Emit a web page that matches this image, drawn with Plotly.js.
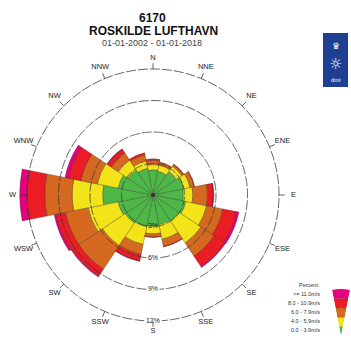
<!DOCTYPE html>
<html><head><meta charset="utf-8">
<script src="https://cdn.plot.ly/plotly-3.0.1.min.js"></script>
<style>html,body{margin:0;padding:0;background:#fff}#chart{width:351px;height:340px}</style>
</head><body><div id="chart"></div>
<script>
// ---- data (percent of time, per direction and wind-speed class) ----
const directions = ['N','NNE','NE','ENE','E','ESE','SE','SSE','S','SSW','SW','WSW','W','WNW','NW','NNW'];
const speedClasses = ['0.0 - 3.9m/s','4.0 - 5.9m/s','6.0 - 7.9m/s','8.0 - 10.9m/s','>= 11.0m/s'];
const pct_00_39  = [2.4,2.3,2.7,3.0,2.9,3.2,3.0,2.9,3.0,3.1,3.2,3.4,4.8,3.4,2.9,2.6];
const pct_40_59  = [0.5,0.6,0.6,0.6,0.9,2.0,2.5,1.4,0.7,1.7,2.6,2.9,2.9,2.0,1.1,0.7];
const pct_60_79  = [0.4,0.25,0.2,0.4,1.4,1.6,1.5,0.7,0.3,1.0,2.7,2.2,2.6,1.6,0.8,0.6];
const pct_80_109 = [0.15,0.05,0.05,0.05,0.55,1.3,1.2,0.05,0.05,0.6,0.8,0.9,1.7,1.2,0.45,0.2];
const pct_110    = [0,0,0,0,0.05,0.25,0.1,0,0,0.05,0.1,0.2,0.7,0.35,0.05,0];
const gridPercents = [3,6,9,12];
const gridLabels = ['3%','6%','9%','12%'];
const titleLines = ['6170','ROSKILDE LUFTHAVN','01-01-2002 - 01-01-2018'];

// ---- styling ----
const colors = ['#4db848','#f3e41a','#d4691f','#ec1c24','#e5007d'];
const FONT = 'Liberation Sans, Arial, sans-serif';
const W = 351, H = 340;
const cx = 153, cy = 195;          // rose centre (px)
const rMax = 13.6, pxPer = 10.5;   // radial range and px per percent
const R = rMax * pxPer;

const series = [pct_00_39, pct_40_59, pct_60_79, pct_80_109, pct_110];
const theta = directions.map((d, i) => i * 22.5);

const traces = [];
series.forEach((vals, k) => {
  traces.push({
    type: 'barpolar', subplot: 'polar', r: vals, theta: theta, width: theta.map(() => 22.5),
    marker: {color: colors[k], line: {color: 'rgba(40,30,20,0.6)', width: 0.5}},
    name: speedClasses[k], hoverinfo: 'skip', showlegend: false
  });
});

// grid circles drawn above the bars, with a gap where the label sits
gridPercents.forEach((g, i) => {
  const halfW = gridLabels[i].length * 2.2 + 1.5;
  const gap = Math.ceil(halfW / (g * pxPer) * 180 / Math.PI);
  const th = [], rr = [];
  for (let a = 180 + gap; a <= 540 - gap; a += 1) { th.push(a % 360); rr.push(g); }
  traces.push({type: 'scatterpolar', subplot: 'polar', mode: 'lines', r: rr, theta: th,
    line: {color: '#3a3a3a', width: 0.8, dash: '10px,2px'}, hoverinfo: 'skip', showlegend: false});
});
// direction ticks on the outer circle
const tickR = [], tickT = [];
theta.forEach(t => { tickR.push(12, 12.55, null); tickT.push(t, t, null); });
traces.push({type: 'scatterpolar', subplot: 'polar', mode: 'lines', r: tickR, theta: tickT,
  line: {color: '#3a3a3a', width: 0.8}, hoverinfo: 'skip', showlegend: false});
// direction labels
traces.push({type: 'scatterpolar', subplot: 'polar', mode: 'text',
  r: theta.map(t => 13.0 + 0.38 * Math.abs(Math.sin(t * Math.PI / 180))), theta: theta,
  text: directions, textfont: {family: FONT, size: 7.5, color: '#222'},
  cliponaxis: false, hoverinfo: 'skip', showlegend: false});
// percent labels
traces.push({type: 'scatterpolar', subplot: 'polar', mode: 'text',
  r: gridPercents, theta: gridPercents.map(() => 180), text: gridLabels,
  textfont: {family: FONT, size: 7, color: '#222'}, cliponaxis: false, hoverinfo: 'skip', showlegend: false});
// centre dot
traces.push({type: 'scatterpolar', subplot: 'polar', mode: 'markers', r: [0], theta: [0],
  marker: {color: '#333', size: 4}, hoverinfo: 'skip', showlegend: false});

// legend funnel (second polar subplot)
colors.forEach((c, k) => {
  traces.push({type: 'barpolar', subplot: 'polar2', r: [1], theta: [90], width: [22],
    marker: {color: c, line: {color: 'rgba(0,0,0,0.25)', width: 0.4}}, hoverinfo: 'skip', showlegend: false});
});

const annotations = [
  {text: '<b>' + titleLines[0] + '</b>', x: 152 / W, y: 1 - 18 / H, size: 12, color: '#111'},
  {text: '<b>' + titleLines[1] + '</b>', x: 153 / W, y: 1 - 31 / H, size: 12, color: '#111'},
  {text: titleLines[2], x: 152 / W, y: 1 - 43 / H, size: 9, color: '#444'}
].map(a => ({xref: 'paper', yref: 'paper', x: a.x, y: a.y, xanchor: 'center', yanchor: 'middle',
  text: a.text, showarrow: false, font: {family: FONT, size: a.size, color: a.color}}));

const legendRows = ['Percent:'].concat(speedClasses.slice().reverse());
const legendY = [285, 294, 303, 312, 321, 330];
legendRows.forEach((t, i) => annotations.push({xref: 'paper', yref: 'paper', x: 322 / W, y: 1 - legendY[i] / H,
  xanchor: 'right', yanchor: 'middle', text: t, showarrow: false, font: {family: FONT, size: 5.5, color: '#333'}}));

// DMI logo
annotations.push({xref: 'paper', yref: 'paper', x: 335.5 / W, y: 1 - 46 / H, xanchor: 'center', yanchor: 'middle',
  text: '♛', showarrow: false, font: {family: 'DejaVu Sans', size: 9, color: '#fff'}});
annotations.push({xref: 'paper', yref: 'paper', x: 335.5 / W, y: 1 - 64 / H, xanchor: 'center', yanchor: 'middle',
  text: '☼', showarrow: false, font: {family: 'DejaVu Sans', size: 15, color: '#fff'}});
annotations.push({xref: 'paper', yref: 'paper', x: 335.5 / W, y: 1 - 80 / H, xanchor: 'center', yanchor: 'middle',
  text: 'dmi', showarrow: false, font: {family: FONT, size: 6, color: '#fff'}});

const hidden = {visible: false, showgrid: false, showline: false, showticklabels: false, ticks: ''};
const layout = {
  width: W, height: H, margin: {l: 0, r: 0, t: 0, b: 0},
  paper_bgcolor: '#fff', plot_bgcolor: '#fff', showlegend: false,
  polar: {
    domain: {x: [(cx - R) / W, (cx + R) / W], y: [(H - cy - R) / H, (H - cy + R) / H]},
    bgcolor: 'rgba(0,0,0,0)', barmode: 'stack',
    radialaxis: Object.assign({range: [0, rMax]}, hidden),
    angularaxis: Object.assign({rotation: 90, direction: 'clockwise'}, hidden)
  },
  polar2: {
    domain: {x: [332 / W, 350 / W], y: [2 / H, 53 / H]},
    sector: [79, 101], bgcolor: 'rgba(0,0,0,0)', barmode: 'stack',
    radialaxis: Object.assign({range: [0, 5]}, hidden),
    angularaxis: Object.assign({}, hidden)
  },
  shapes: [{type: 'rect', xref: 'paper', yref: 'paper', x0: 323 / W, x1: 348 / W, y0: 1 - 87 / H, y1: 1 - 33 / H,
    fillcolor: '#1f3f93', line: {width: 0}, layer: 'below'}],
  annotations: annotations
};
Plotly.newPlot('chart', traces, layout, {staticPlot: true, displayModeBar: false});
</script></body></html>
